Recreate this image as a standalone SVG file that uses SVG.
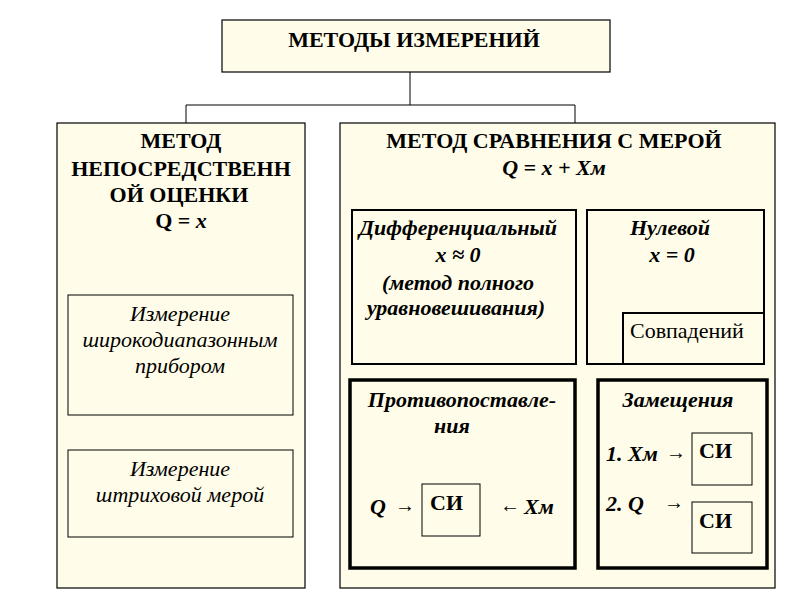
<svg xmlns="http://www.w3.org/2000/svg" width="800" height="600" viewBox="0 0 800 600">
<style>
.box{fill:#fffde9;stroke:#000;stroke-width:1.2}
.thin{fill:#fffde9;stroke:#000;stroke-width:1}
.med{fill:#fffde9;stroke:#000;stroke-width:2}
.thick{fill:#fffde9;stroke:#000;stroke-width:3.5}
text{font-family:"Liberation Serif","DejaVu Serif",serif;font-size:22px;fill:#000}
.b{font-weight:bold}
.bi{font-weight:bold;font-style:italic}
.i{font-style:italic}
.c{text-anchor:middle}
.ar{font-size:20px;font-weight:normal;font-style:normal}
.con{fill:none;stroke:#000;stroke-width:1}
</style>
<rect width="800" height="600" fill="#fff"/>
<g id="connectors">
<path class="con" d="M410,72 V105 M186,105 H575 M186,105 V123 M575,105 V123"/>
</g>
<g id="root">
<rect class="box" x="222" y="20" width="388" height="52"/>
<text class="b c" x="414" y="47">МЕТОДЫ ИЗМЕРЕНИЙ</text>
</g>
<g id="direct">
<rect class="box" x="57" y="123" width="248" height="465"/>
<text class="b c" x="181" y="148">МЕТОД</text>
<text class="b c" x="181" y="176">НЕПОСРЕДСТВЕНН</text>
<text class="b c" x="179" y="202">ОЙ ОЦЕНКИ</text>
<text class="b c" x="181" y="228">Q = <tspan font-style="italic">x</tspan></text>
</g>
<g id="wide">
<rect class="thin" x="68" y="295" width="225" height="120"/>
<text class="i c" x="180" y="321">Измерение</text>
<text class="i c" x="180" y="347">широкодиапазонным</text>
<text class="i c" x="180" y="373">прибором</text>
</g>
<g id="stroke">
<rect class="thin" x="68" y="450" width="225" height="87"/>
<text class="i c" x="180" y="476">Измерение</text>
<text class="i c" x="180" y="502">штриховой мерой</text>
</g>
<g id="compare">
<rect class="box" x="340" y="123" width="435" height="465"/>
<text class="b c" x="554" y="148">МЕТОД СРАВНЕНИЯ С МЕРОЙ</text>
<text class="bi c" x="554" y="175">Q = x  + Xм</text>
</g>
<g id="differential">
<rect class="med" x="352" y="210" width="224" height="154"/>
<text class="bi c" x="458" y="235">Дифференциальный</text>
<text class="bi c" x="458" y="262">x ≈ 0</text>
<text class="bi c" x="458" y="290">(метод полного</text>
<text class="bi c" x="456" y="315">уравновешивания)</text>
</g>
<g id="null">
<rect class="med" x="587" y="210" width="177" height="154"/>
<text class="bi c" x="670" y="235">Нулевой</text>
<text class="bi c" x="672" y="262">x = 0</text>
</g>
<g id="coincidence">
<rect class="med" x="623" y="313" width="141" height="51"/>
<text x="630" y="338">Совпадений</text>
</g>
<g id="opposition">
<rect class="thick" x="350" y="380" width="225" height="188"/>
<text class="bi c" x="462" y="407">Противопоставле-</text>
<text class="bi c" x="452" y="433">ния</text>
<rect class="thin" x="422" y="484" width="58" height="52"/>
<text class="b" x="430" y="510">СИ</text>
<text class="bi" x="370" y="514">Q</text>
<text class="ar" x="395" y="512">→</text>
<text class="ar" x="500" y="512">←</text>
<text class="bi" x="524" y="514">Xм</text>
</g>
<g id="substitution">
<rect class="thick" x="598" y="380" width="169" height="188"/>
<text class="bi c" x="678" y="407">Замещения</text>
<text class="bi" x="606" y="461">1. Xм</text>
<text class="ar" x="666" y="459">→</text>
<rect class="thin" x="692" y="433" width="60" height="52"/>
<text class="b" x="699" y="458">СИ</text>
<text class="bi" x="606" y="511">2. Q</text>
<text class="ar" x="664" y="509">→</text>
<rect class="thin" x="692" y="502" width="60" height="51"/>
<text class="b" x="699" y="528">СИ</text>
</g>
</svg>
